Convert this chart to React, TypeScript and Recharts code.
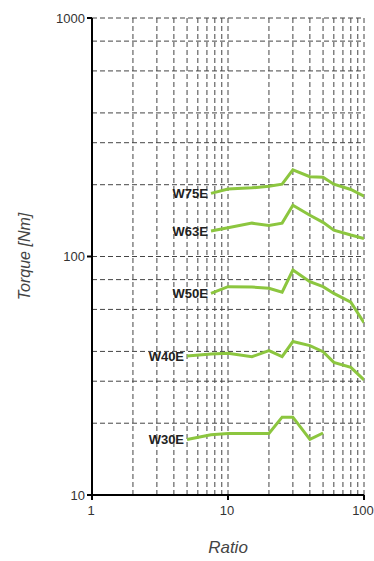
import { LineChart, Line, XAxis, YAxis, CartesianGrid, Label } from 'recharts';

const ratiosLong = [5, 7.5, 10, 15, 20, 25, 30, 40, 50, 60, 80, 100];
const ratiosShort = [7.5, 10, 15, 20, 25, 30, 40, 50, 60, 80, 100];
const ratiosW30 = [5, 7.5, 10, 15, 20, 25, 30, 40, 50];

const w75 = [184, 192, 194, 197, 201, 231, 216, 215, 201, 191, 179];
const w63 = [128, 132, 138, 135, 138, 164, 149, 139, 129, 123, 119];
const w50 = [70, 74.7, 74.5, 73.6, 70.8, 87.8, 78.4, 74.7, 70, 64.3, 52.8];
const w40 = [38.3, 39, 39.3, 38, 40.3, 38, 44, 42.3, 39.9, 36, 34.3, 30.4];
const w30 = [17.1, 17.9, 18.1, 18.1, 18.1, 21.2, 21.2, 17.1, 18.2];

const xTicks = [1, 10, 100];
const yTicks = [10, 100, 1000];
const xGrid = [2, 3, 4, 5, 6, 7, 8, 9, 10, 20, 30, 40, 50, 60, 70, 80, 90, 100];
const yGrid = [
  20, 30, 40, 50, 60, 70, 80, 90, 100, 200, 300, 400, 500, 600, 700, 800, 900, 1000,
];

const toPoints = (xs: number[], ys: number[]) => xs.map((x, i) => ({ x, y: ys[i] }));

const series = [
  { name: 'W75E', data: toPoints(ratiosShort, w75) },
  { name: 'W63E', data: toPoints(ratiosShort, w63) },
  { name: 'W50E', data: toPoints(ratiosShort, w50) },
  { name: 'W40E', data: toPoints(ratiosLong, w40) },
  { name: 'W30E', data: toPoints(ratiosW30, w30) },
];

const GREEN = '#8cc63f';
const FONT = 'Liberation Sans, Arial, sans-serif';

function startLabel(name: string) {
  return (props: any) => {
    if (props.index !== 0) return null;
    return (
      <text
        x={props.x - 3}
        y={props.y}
        dy={5}
        textAnchor="end"
        fontSize={13}
        fontWeight="bold"
        fill="#222"
        fontFamily={FONT}
      >
        {name}
      </text>
    );
  };
}

// plain tick text, so nothing gets wrapped or dropped near the right edge
function XTick(props: any) {
  const { x, y, payload } = props;
  return (
    <text x={x - 1} y={y + 13} textAnchor="middle" fontSize={13} fill="#333" fontFamily={FONT}>
      {payload.value}
    </text>
  );
}

export default function App() {
  return (
    <div style={{ width: 374, height: 561, fontFamily: FONT }}>
      <style>{'html,body{margin:0;padding:0;overflow:hidden}'}</style>
      <LineChart
        width={374}
        height={561}
        margin={{ top: 18, right: 10, bottom: 36, left: 32 }}
      >
        <CartesianGrid
          stroke="#444"
          strokeDasharray="5 3"
          verticalValues={xGrid}
          horizontalValues={yGrid}
        />
        <XAxis
          type="number"
          dataKey="x"
          scale="log"
          domain={[1, 100]}
          ticks={xTicks}
          allowDataOverflow
          interval={0}
          stroke="#000"
          strokeWidth={2}
          tickSize={5}
          tick={<XTick />}
        >
          <Label
            value="Ratio"
            position="bottom"
            offset={16}
            style={{ fontStyle: 'italic', fontSize: 17, fill: '#444', fontFamily: FONT }}
          />
        </XAxis>
        <YAxis
          type="number"
          dataKey="y"
          scale="log"
          domain={[10, 1000]}
          ticks={yTicks}
          allowDataOverflow
          width={60}
          stroke="#000"
          strokeWidth={2}
          tickSize={5}
          tick={{ fill: '#333', fontSize: 13, fontFamily: FONT }}
        >
          <Label
            value="Torque [Nm]"
            angle={-90}
            position="insideLeft"
            offset={-8}
            style={{ fontStyle: 'italic', fontSize: 16, fill: '#444', textAnchor: 'middle', fontFamily: FONT }}
          />
        </YAxis>
        {series.map((s) => (
          <Line
            key={s.name}
            data={s.data}
            dataKey="y"
            type="linear"
            stroke={GREEN}
            strokeWidth={3}
            dot={false}
            label={startLabel(s.name)}
            isAnimationActive={false}
          />
        ))}
      </LineChart>
    </div>
  );
}
